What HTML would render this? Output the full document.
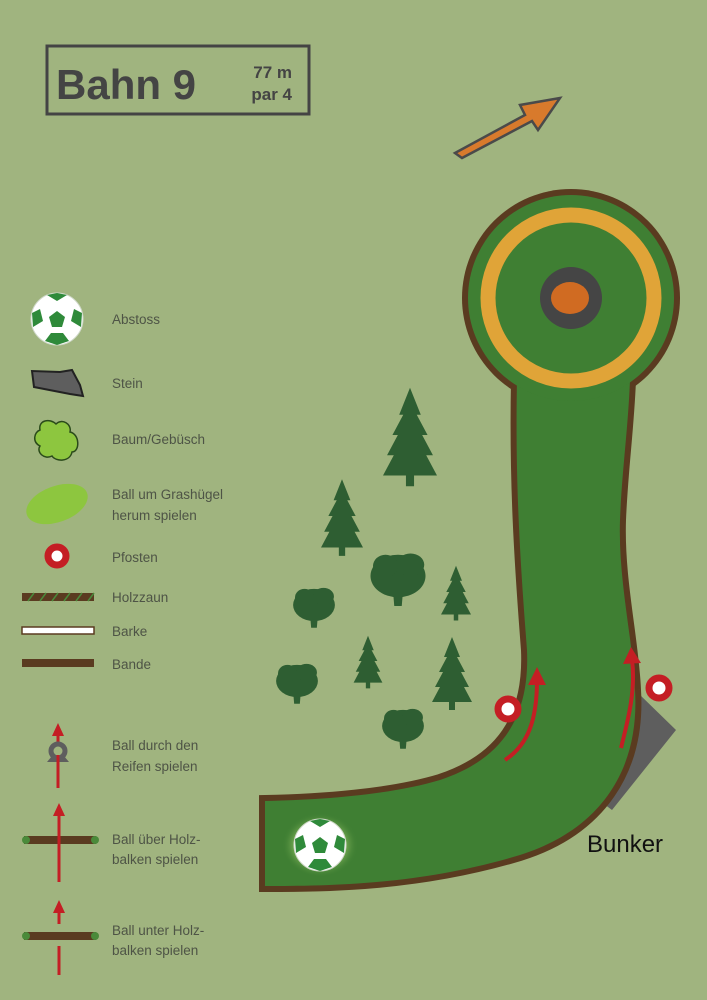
<!DOCTYPE html>
<html><head><meta charset="utf-8"><style>
body{margin:0;width:707px;height:1000px;overflow:hidden;background:#a0b47f;}
svg{display:block}
text{font-family:"Liberation Sans",sans-serif;}
.l{font-size:13.5px;fill:#4e5446;}
</style></head><body>
<svg width="707" height="1000" viewBox="0 0 707 1000">
<defs>
<radialGradient id="glow"><stop offset="0.5" stop-color="#b9e07a"/><stop offset="1" stop-color="#3f7f33" stop-opacity="0"/></radialGradient>
<g id="ball"><circle r="26" fill="#fff" stroke="#cfd8c8" stroke-width="1"/>
<polygon points="0,-8 8,-2 5,8 -5,8 -8,-2" fill="#2f8a3a"/>
<path d="M-10,-24 L0,-18 10,-24 0,-26Z M-25,-6 L-17,-10 -14,2 -24,8Z M25,-6 L17,-10 14,2 24,8Z M-12,22 L-6,14 6,14 12,22 0,26Z" fill="#2f8a3a"/></g>
<g id="pine"><path d="M0,-35 L8,-15 L5,-15 L13,0 L9,0 L17,15 L12,15 L20,30 L3,30 L3,38 L-3,38 L-3,30 L-20,30 L-12,15 L-17,15 L-9,0 L-13,0 L-5,-15 L-8,-15Z" fill="#2e5e32"/></g>
<g id="oak"><path d="M-4,12 L-3,24 L3,24 L4,12Z" fill="#2e5e32"/><ellipse cx="0" cy="0" rx="22" ry="17" fill="#2e5e32"/><ellipse cx="-10" cy="-8" rx="10" ry="9" fill="#2e5e32"/><ellipse cx="10" cy="-9" rx="11" ry="9" fill="#2e5e32"/></g>
<path id="fw" d="M517,380 C515,480 520,560 527,650 C530,720 500,760 440,780 C390,795 320,800 265,801 L265,886 C330,886 420,885 520,855 C600,830 640,770 635,690 C633,640 618,580 620,520 C622,470 628,430 630,380 Z"/>
</defs>
<rect width="707" height="1000" fill="#a0b47f"/>
<!-- title -->
<rect x="47" y="46" width="262" height="68" fill="none" stroke="#444" stroke-width="3"/>
<text x="56" y="99" font-size="42" font-weight="bold" fill="#444">Bahn 9</text>
<text x="292" y="78" font-size="17" font-weight="bold" fill="#444" text-anchor="end">77 m</text>
<text x="292" y="100" font-size="17" font-weight="bold" fill="#444" text-anchor="end">par 4</text>
<!-- arrow -->
<path d="M455,153 L525,115 L520,105 L560,98 L538,130 L532,121 L462,158Z" fill="#d87a2c" stroke="#4a4a4a" stroke-width="2.5"/>
<!-- bunker -->
<polygon points="638,693 676,730 612,810 592,795 628,740" fill="#5e5e5e"/>
<!-- fairway: strokes then fills -->
<use href="#fw" fill="#5a3b20" stroke="#5a3b20" stroke-width="12"/>
<circle cx="571" cy="298" r="109" fill="#5a3b20"/>
<use href="#fw" fill="#3f7f33"/>
<circle cx="571" cy="298" r="103" fill="#3f7f33"/>
<circle cx="571" cy="298" r="83" fill="none" stroke="#e0a438" stroke-width="15"/>
<circle cx="571" cy="298" r="31" fill="#454545"/>
<ellipse cx="570" cy="298" rx="19" ry="16" fill="#d06b22"/>
<ellipse cx="320" cy="845" rx="38" ry="32" fill="url(#glow)"/>
<use href="#ball" x="320" y="845"/>
<!-- red arrows -->
<path d="M505,760 C528,745 537,720 537,680" fill="none" stroke="#c41e24" stroke-width="4"/>
<polygon points="528,685 537,667 546,685" fill="#c41e24"/>
<path d="M621,748 C628,720 636,690 632,660" fill="none" stroke="#c41e24" stroke-width="4"/>
<polygon points="623,664 631,647 641,663" fill="#c41e24"/>
<circle cx="508" cy="709" r="10" fill="#fff" stroke="#c41e24" stroke-width="7"/>
<circle cx="659" cy="688" r="10" fill="#fff" stroke="#c41e24" stroke-width="7"/>
<text x="587" y="852" font-size="24" fill="#111">Bunker</text>
<!-- trees -->
<use href="#pine" transform="translate(410,435) scale(1.35)"/>
<use href="#pine" transform="translate(342,516) scale(1.05)"/>
<use href="#pine" transform="translate(456,592) scale(0.75)"/>
<use href="#pine" transform="translate(368,661) scale(0.72)"/>
<use href="#pine" transform="translate(452,672) scale(1.0)"/>
<use href="#oak" transform="translate(398,576) scale(1.25)"/>
<use href="#oak" transform="translate(314,605) scale(0.95)"/>
<use href="#oak" transform="translate(297,681) scale(0.95)"/>
<use href="#oak" transform="translate(403,726) scale(0.95)"/>
<!-- legend -->
<use href="#ball" x="57" y="319"/>
<text class="l" x="112" y="324">Abstoss</text>
<path d="M32,371 L34,387 L70,394 L83,396 L80,385 L72,370 L60,372Z" fill="#5e5e5e" stroke="#222" stroke-width="2"/>
<text class="l" x="112" y="388">Stein</text>
<path d="M40,430 C38,420 50,418 56,424 C62,418 72,424 70,432 C80,434 80,452 72,452 C70,462 56,462 52,456 C44,460 36,452 40,446 C32,442 34,432 40,430Z" fill="#8dc63f" stroke="#2a4a1a" stroke-width="1.5"/>
<text class="l" x="112" y="444">Baum/Gebüsch</text>
<ellipse cx="57" cy="504" rx="32" ry="18" transform="rotate(-20 57 504)" fill="#8dc63f"/>
<text class="l" x="112" y="499">Ball um Grashügel</text>
<text class="l" x="112" y="520">herum spielen</text>
<circle cx="57" cy="556" r="9" fill="#fff" stroke="#c41e24" stroke-width="7"/>
<text class="l" x="112" y="562">Pfosten</text>
<rect x="22" y="593" width="72" height="8" fill="#5a3b20"/>
<path d="M28,601 L34,593 M40,601 L46,593 M52,601 L58,593 M64,601 L70,593 M76,601 L82,593 M88,601 L94,593" stroke="#4a8a3a" stroke-width="1.5"/>
<text class="l" x="112" y="602">Holzzaun</text>
<rect x="22" y="627" width="72" height="7" fill="#fff" stroke="#5a3b20" stroke-width="1.5"/>
<text class="l" x="112" y="636">Barke</text>
<rect x="22" y="659" width="72" height="8" fill="#5a3b20"/>
<text class="l" x="112" y="669">Bande</text>
<polygon points="52,736 58,723 64,736" fill="#c41e24"/>
<line x1="58" y1="735" x2="58" y2="745" stroke="#c41e24" stroke-width="3"/>
<circle cx="58" cy="751" r="7" fill="none" stroke="#5e5e5e" stroke-width="5"/>
<path d="M47,762 L52,756 L64,756 L69,762Z" fill="#5e5e5e"/>
<line x1="58" y1="755" x2="58" y2="788" stroke="#c41e24" stroke-width="3"/>
<text class="l" x="112" y="750">Ball durch den</text>
<text class="l" x="112" y="771">Reifen spielen</text>
<rect x="24" y="836" width="72" height="8" fill="#5a3b20"/>
<circle cx="26" cy="840" r="4" fill="#4a8a3a"/><circle cx="95" cy="840" r="4" fill="#4a8a3a"/>
<line x1="59" y1="808" x2="59" y2="882" stroke="#c41e24" stroke-width="3"/>
<polygon points="53,816 59,803 65,816" fill="#c41e24"/>
<text class="l" x="112" y="844">Ball über Holz-</text>
<text class="l" x="112" y="864">balken spielen</text>
<line x1="59" y1="905" x2="59" y2="924" stroke="#c41e24" stroke-width="3"/>
<polygon points="53,913 59,900 65,913" fill="#c41e24"/>
<rect x="24" y="932" width="72" height="8" fill="#5a3b20"/>
<circle cx="26" cy="936" r="4" fill="#4a8a3a"/><circle cx="95" cy="936" r="4" fill="#4a8a3a"/>
<line x1="59" y1="946" x2="59" y2="975" stroke="#c41e24" stroke-width="3"/>
<text class="l" x="112" y="935">Ball unter Holz-</text>
<text class="l" x="112" y="955">balken spielen</text>
</svg>
</body></html>
